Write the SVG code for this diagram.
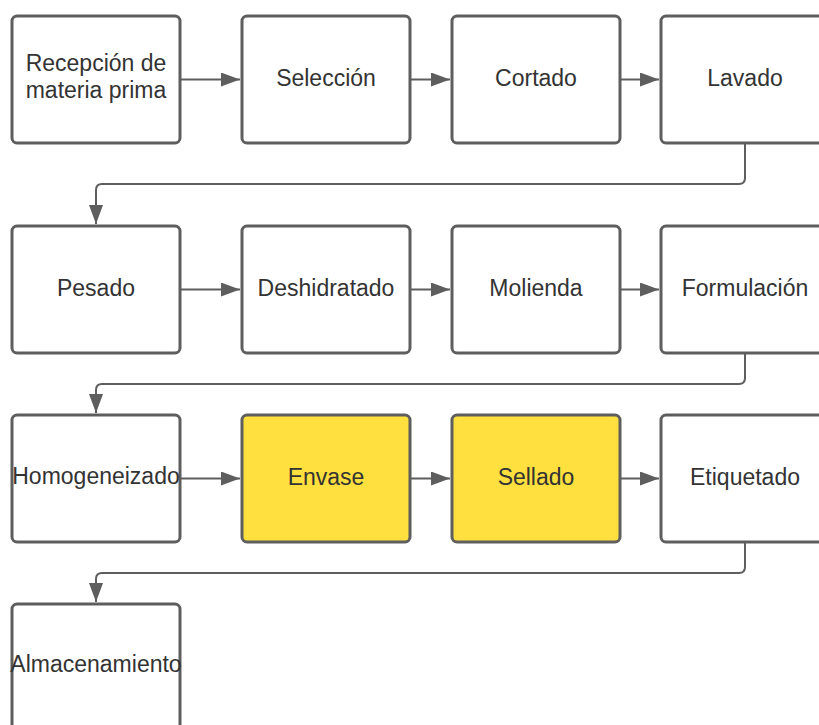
<svg xmlns="http://www.w3.org/2000/svg" width="819" height="725" viewBox="0 0 819 725">
<style>
.box{fill:#ffffff;stroke:#5e5e5e;stroke-width:3}
.hl{fill:#ffe03e}
.t{font-family:"Liberation Sans",Arial,sans-serif;font-size:23px;fill:#333333;text-anchor:middle;dominant-baseline:central}
.c{fill:none;stroke:#5e5e5e;stroke-width:2}
</style>
<defs>
<marker id="ah" markerWidth="20" markerHeight="14" refX="19" refY="7" orient="auto" markerUnits="userSpaceOnUse">
<path d="M0,0 L19,7 L0,14 Z" fill="#5e5e5e"/>
</marker>
</defs>
<rect width="819" height="725" fill="#ffffff"/>
<g id="connectors">
<path class="c" d="M181,79.5 H240" marker-end="url(#ah)"/>
<path class="c" d="M411,79.5 H450" marker-end="url(#ah)"/>
<path class="c" d="M621,79.5 H659" marker-end="url(#ah)"/>
<path class="c" d="M745,144 V178 Q745,184 739,184 H102 Q96,184 96,190 V224" marker-end="url(#ah)"/>
<path class="c" d="M181,289.5 H240" marker-end="url(#ah)"/>
<path class="c" d="M411,289.5 H450" marker-end="url(#ah)"/>
<path class="c" d="M621,289.5 H659" marker-end="url(#ah)"/>
<path class="c" d="M745,354 V378 Q745,384 739,384 H102 Q96,384 96,390 V413" marker-end="url(#ah)"/>
<path class="c" d="M181,478.5 H240" marker-end="url(#ah)"/>
<path class="c" d="M411,478.5 H450" marker-end="url(#ah)"/>
<path class="c" d="M621,478.5 H659" marker-end="url(#ah)"/>
<path class="c" d="M745,543 V567 Q745,573 739,573 H102 Q96,573 96,579 V602" marker-end="url(#ah)"/>
</g>
<g id="n1"><rect class="box" x="12" y="16" width="168" height="127" rx="5"/><text class="t" x="96" y="63">Recepción de</text><text class="t" x="96" y="90">materia prima</text></g>
<g id="n2"><rect class="box" x="242" y="16" width="168" height="127" rx="5"/><text class="t" x="326" y="78">Selección</text></g>
<g id="n3"><rect class="box" x="452" y="16" width="168" height="127" rx="5"/><text class="t" x="536" y="78">Cortado</text></g>
<g id="n4"><rect class="box" x="661" y="16" width="168" height="127" rx="5"/><text class="t" x="745" y="78">Lavado</text></g>
<g id="n5"><rect class="box" x="12" y="226" width="168" height="127" rx="5"/><text class="t" x="96" y="288">Pesado</text></g>
<g id="n6"><rect class="box" x="242" y="226" width="168" height="127" rx="5"/><text class="t" x="326" y="288">Deshidratado</text></g>
<g id="n7"><rect class="box" x="452" y="226" width="168" height="127" rx="5"/><text class="t" x="536" y="288">Molienda</text></g>
<g id="n8"><rect class="box" x="661" y="226" width="168" height="127" rx="5"/><text class="t" x="745" y="288">Formulación</text></g>
<g id="n9"><rect class="box" x="12" y="415" width="168" height="127" rx="5"/><text class="t" x="96" y="476">Homogeneizado</text></g>
<g id="n10"><rect class="box hl" x="242" y="415" width="168" height="127" rx="5"/><text class="t" x="326" y="477">Envase</text></g>
<g id="n11"><rect class="box hl" x="452" y="415" width="168" height="127" rx="5"/><text class="t" x="536" y="477">Sellado</text></g>
<g id="n12"><rect class="box" x="661" y="415" width="168" height="127" rx="5"/><text class="t" x="745" y="477">Etiquetado</text></g>
<g id="n13"><rect class="box" x="12" y="604" width="168" height="127" rx="5"/><text class="t" x="96" y="664">Almacenamiento</text></g>
</svg>
